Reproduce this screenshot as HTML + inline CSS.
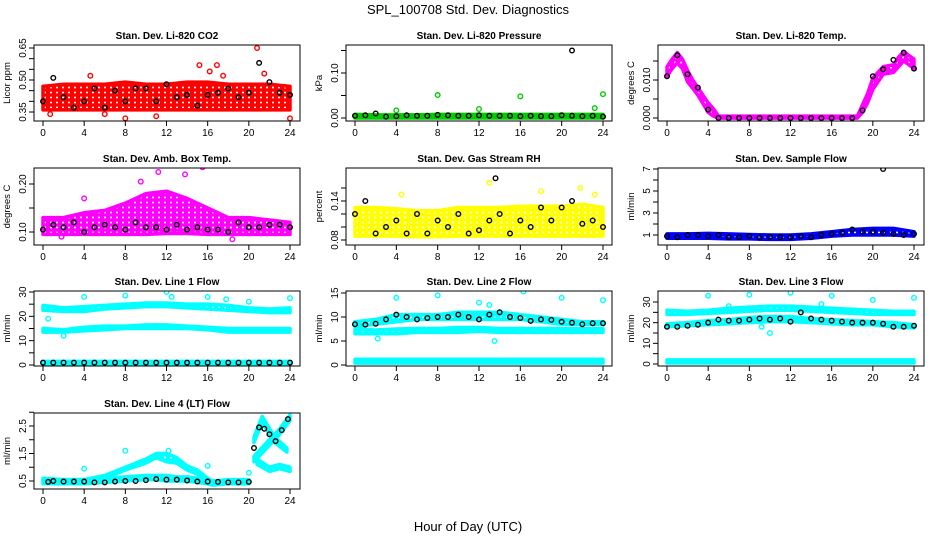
<!DOCTYPE html>
<html><head><meta charset="utf-8"><style>
body{margin:0;background:#fff}
svg{display:block;font-family:"Liberation Sans",sans-serif}
</style></head><body>
<svg id="c" width="936" height="540">
<defs id="defs"></defs>
<text x="468" y="14" text-anchor="middle" font-size="13">SPL_100708  Std. Dev. Diagnostics</text>
<text x="468" y="531" text-anchor="middle" font-size="13">Hour of Day (UTC)</text>
</svg>
<script>
// ---- data ----
const xTicks=[0,4,8,12,16,20,24];
const bandHours=[0,2,4,6,8,10,12,14,16,18,20,22,24];
const blackHours=[0,1,2,3,4,5,6,7,8,9,10,11,12,13,14,15,16,17,18,19,20,21,22,23,24];
// CO2
const co2Lo=[0.36,0.36,0.36,0.36,0.36,0.36,0.36,0.36,0.36,0.36,0.36,0.36,0.36];
const co2Hi=[0.47,0.48,0.48,0.48,0.49,0.48,0.48,0.49,0.49,0.48,0.48,0.48,0.47];
const co2Black=[0.40,0.51,0.42,0.37,0.40,0.46,0.37,0.45,0.40,0.46,0.46,0.40,0.48,0.42,0.43,0.38,0.43,0.44,0.46,0.42,0.44,0.58,0.49,0.44,0.43];
const co2OutX=[15.2,16.2,16.9,20.8,21.5,8,11,24,0.7,6,4.6,17.5];
const co2OutY=[0.57,0.54,0.57,0.65,0.53,0.32,0.33,0.32,0.34,0.34,0.52,0.52];
// Pressure
const presLo=[0,0,0,0,0,0,0,0,0,0,0,0,0];
const presHi=[0.008,0.007,0.007,0.007,0.008,0.008,0.008,0.008,0.008,0.008,0.008,0.008,0.008];
const presBlack=[0.005,0.006,0.01,0.003,0.004,0.006,0.005,0.005,0.007,0.006,0.005,0.005,0.006,0.005,0.005,0.005,0.004,0.005,0.004,0.004,0.006,0.005,0.004,0.005,0.003];
const presOutX=[8,16,24,23.2,4,12];
const presOutY=[0.051,0.048,0.053,0.022,0.017,0.02];
const presBOutX=[21]; const presBOutY=[0.15];
// Li-820 temp
const tmpHours=[0,0.5,1,1.5,2,2.5,3,3.5,4,4.5,5,18.5,19,19.5,20,21,22,22.5,23,24];
const tmpLo=[0.011,0.013,0.0145,0.013,0.0095,0.0078,0.006,0.0038,0.0015,0.0005,0,0,0.0015,0.004,0.0075,0.0115,0.012,0.0135,0.015,0.013];
const tmpHi=[0.0135,0.0155,0.0172,0.0155,0.0125,0.01,0.008,0.006,0.004,0.0025,0.0005,0.0005,0.0035,0.0065,0.0105,0.0135,0.014,0.016,0.0175,0.0155];
const tmpBlack=[0.011,0.0165,0.0115,0.008,0.0022,0,0,0,0,0,0,0,0,0,0,0,0,0,0,0.002,0.011,0.0128,0.0153,0.0172,0.013];
// Box temp
const boxLo=[0.095,0.095,0.095,0.095,0.095,0.095,0.097,0.097,0.095,0.095,0.095,0.095,0.095];
const boxHi=[0.13,0.13,0.14,0.145,0.16,0.18,0.185,0.17,0.15,0.13,0.13,0.125,0.12];
const boxBlack=[0.105,0.115,0.11,0.12,0.10,0.11,0.115,0.11,0.105,0.12,0.11,0.11,0.105,0.115,0.105,0.11,0.105,0.105,0.10,0.12,0.11,0.11,0.115,0.115,0.11];
const boxOutX=[11.2,15.5,4,18.4,1.8,13.8,9.5];
const boxOutY=[0.225,0.235,0.17,0.085,0.09,0.22,0.205];
// RH
const rhLo=[0.086,0.086,0.086,0.085,0.085,0.086,0.086,0.086,0.086,0.086,0.086,0.086,0.086];
const rhHi=[0.13,0.13,0.128,0.125,0.125,0.13,0.13,0.13,0.132,0.132,0.132,0.135,0.13];
const rhBlack=[0.12,0.14,0.09,0.10,0.11,0.09,0.12,0.09,0.11,0.10,0.12,0.09,0.095,0.11,0.12,0.09,0.11,0.10,0.13,0.11,0.13,0.14,0.105,0.11,0.10];
const rhOutX=[13,4.5,21.8,18,23.2];
const rhOutY=[0.168,0.15,0.16,0.155,0.15];
const rhBOutX=[13.6]; const rhBOutY=[0.175];
// Sample flow
const sfLo=[0.7,0.7,0.7,0.65,0.65,0.6,0.6,0.7,0.9,1.0,1.0,1.0,0.9];
const sfHi=[1.1,1.1,1.15,1.1,1.05,1.0,1.0,1.1,1.3,1.5,1.6,1.6,1.3];
const sfBlack=[0.9,0.8,1.0,1.0,0.9,1.0,0.8,0.8,0.9,0.75,0.85,0.8,0.8,0.9,0.8,1.0,1.1,1.2,1.5,1.3,1.3,1.2,1.1,1.0,1.1];
const sfBOutX=[21]; const sfBOutY=[7];
// Line 1
const l1aLo=[22.5,22,22,23,23.5,24,24,23.5,23,22.5,22,21.5,21.5];
const l1aHi=[24.5,23.5,24,24.5,25,25.5,25.5,25,25,24.5,23.5,23,23.5];
const l1bLo=[13.5,13.5,14,14.5,15,15,15,15,14.5,13.5,13.5,13.5,13.5];
const l1bHi=[15,14.5,15.5,16,16,16.5,16.5,16,15.5,15,15,15,15];
const l1cLo=[0.5,0.5,0.5,0.5,0.5,0.5,0.5,0.5,0.5,0.5,0.5,0.5,0.5];
const l1cHi=[1.5,1.5,1.5,1.5,1.5,1.5,1.5,1.5,1.5,1.5,1.5,1.5,1.5];
const l1Black=[1,1,1,1,1,1,1,1,1,1,1,1,1,1,1,1,1,1,1,1,1,1,1,1,1];
const l1OutX=[4,8,12,12.5,16,17.8,20,24,2,0.5];
const l1OutY=[28,28.5,30,28,28,27,26,27.5,12,19];
// Line 2
const l2aLo=[8,8.5,9,9.5,9.5,9.5,9.5,9.5,9.5,9,8.5,8.5,8.5];
const l2aHi=[9,9.5,10.5,10.5,10.5,11,11,11,10.5,10,9.5,9,9];
const l2bLo=[6.5,6.5,6.5,6.8,6.8,6.8,7,6.8,6.8,6.8,6.8,6.8,6.8];
const l2bHi=[7.5,7.3,7.5,7.6,7.6,7.8,7.8,7.6,7.6,7.6,7.6,7.6,7.6];
const l2cLo=[0.4,0.4,0.4,0.4,0.4,0.4,0.4,0.4,0.4,0.4,0.4,0.4,0.4];
const l2cHi=[1.2,1.2,1.2,1.2,1.2,1.2,1.2,1.2,1.2,1.2,1.2,1.2,1.2];
const l2Black=[8.5,8.4,8.6,9.5,10.5,10,9.5,9.8,10,10,10.5,10,9.5,10.5,11,10,9.8,9.2,9.5,9.4,9,8.8,8.5,8.7,8.7];
const l2OutX=[4,8,12,13,16.3,20,24,2.2,13.5];
const l2OutY=[14,14.5,13,12.5,15.3,14,13.5,5.5,5];
// Line 3
const l3aLo=[24,24,24.5,25,25.5,26,26,25.5,25,24.5,24,24,24];
const l3aHi=[26,25.5,26,27,27.5,28,28,27.5,27,26.5,26,25.5,25.5];
const l3bLo=[18,18.5,19,19.5,20,20.5,20.5,20,19.5,19,19,18,17.5];
const l3bHi=[19.5,20,21,21.5,22.5,23,23,22,21.5,21,20.5,20,19];
const l3cLo=[0.5,0.5,0.5,0.5,0.5,0.5,0.5,0.5,0.5,0.5,0.5,0.5,0.5];
const l3cHi=[2,2,2,2,2,2,2,2,2,2,2,2,2];
const l3Black=[18,18,18.5,19,20,21.5,21,21,21.5,22,21.5,22,20.5,25,22,21.5,21,20.5,20,20,20,19.5,18,18,18.5];
const l3OutX=[4,8,12,16,20,24,10,9.2,6,15];
const l3OutY=[33,33.5,34.5,33,31,32,15,18,28,29];
// Line 4
const l4Hours=[0,2,4,6,8,10,11,12,13,14,15,16,16.5,18,20];
const l4aLo=[0.4,0.4,0.4,0.45,0.5,0.55,0.55,0.5,0.5,0.5,0.45,0.4,0.35,0.4,0.4];
const l4aHi=[0.6,0.55,0.55,0.6,0.65,0.7,0.7,0.7,0.65,0.65,0.6,0.55,0.5,0.55,0.55];
const l4bLo=[0.5,0.5,0.5,0.6,0.9,1.15,1.35,1.2,1.15,0.9,0.75,0.5,0.45,0.45,0.45];
const l4bHi=[0.55,0.55,0.55,0.7,1.0,1.3,1.5,1.5,1.35,1.05,0.9,0.6,0.5,0.5,0.5];
const l4cHours=[20.5,21,22,23,24];
const l4cLo=[1.2,1.4,1.8,2.2,2.7];
const l4cHi=[1.4,1.6,2.0,2.4,2.9];
const l4dHours=[20.5,21.3,22.5,23.7];
const l4dLo=[1.9,2.65,1.9,1.55];
const l4dHi=[2.1,2.85,2.1,1.7];
const l4eHours=[20.8,22,23,24];
const l4eLo=[1.1,0.85,0.95,0.85];
const l4eHi=[1.3,1.0,1.1,1.0];
const l4BlackX=[0.5,1,2,3,4,5,6,7,8,9,10,11,12,13,14,15,16,17,18,19,20,20.5,21,21.5,22,22.6,23.2,23.8];
const l4BlackY=[0.47,0.5,0.48,0.48,0.48,0.45,0.45,0.48,0.5,0.5,0.53,0.57,0.55,0.55,0.52,0.48,0.48,0.47,0.45,0.45,0.47,1.7,2.45,2.4,2.2,1.95,2.35,2.75];
const l4OutX=[4,8,12.2,16,20];
const l4OutY=[0.95,1.6,1.6,1.05,0.8];

// ---- layout ----
const cols=[{x0:34,x1:300,h0:43,h24:290},{x0:346,x1:612,h0:355,h24:603},{x0:658,x1:924,h0:667,h24:914}];
const rows=[{y0:45,y1:121},{y0:168,y1:245},{y0:291,y1:366},{y0:413,y1:489}];
const svg=document.getElementById('c');
const defs=document.getElementById('defs');
const NS='http://www.w3.org/2000/svg';
function mk(tag,attrs,parent){const e=document.createElementNS(NS,tag);for(const k in attrs)e.setAttribute(k,attrs[k]);(parent||svg).appendChild(e);return e;}
const patIds={};
function pat(col){
  if(patIds[col])return patIds[col];
  const id='pat'+col.replace('#','');
  const p=mk('pattern',{id:id,width:6,height:5,patternUnits:'userSpaceOnUse'},defs);
  mk('rect',{x:0,y:0,width:6,height:5,fill:col},p);
  mk('circle',{cx:3,cy:2.5,r:1,fill:'#fff'},p);
  patIds[col]=id;return id;
}

function panel(name,title,ytitle,c,r,ya,yb,ticks,labels,draw){
  const C=cols[c],R=rows[r];
  const g=mk('g',{});
  
  
  const sx=h=>C.h0+(C.h24-C.h0)*h/24;
  const sy=v=>ya[1]+(yb[1]-ya[1])*(v-ya[0])/(yb[0]-ya[0]);
  const t=mk('text',{x:(C.x0+C.x1)/2,y:R.y0-6,'text-anchor':'middle','font-size':'10','font-weight':'bold'},g);
  t.textContent=title;
  
  
  const pts=mk('g',{},g);
  
  
  const clip='cl'+name;
  const cp=mk('clipPath',{id:clip},g);mk('rect',{x:C.x0,y:R.y0,width:C.x1-C.x0,height:R.y1-R.y0},cp);
  pts.setAttribute('clip-path','url(#'+clip+')');
  draw({
    band:(xs,lo,hi,col)=>{
      let d='M'+xs.map((h,i)=>sx(h)+','+sy(hi[i])).join('L')+'L'+xs.map((h,i)=>sx(h)+','+sy(lo[i])).reverse().join('L')+'Z';
      const p=mk('path',{d:d,fill:'url(#'+pat(col)+')',stroke:col,'stroke-width':3.5,'stroke-linejoin':'round'},pts);
      
      
    },
    points:(xs,ys,col)=>{xs.forEach((h,i)=>{const e=mk('circle',{cx:sx(h),cy:sy(ys[i]),r:2.3,fill:'none',stroke:col,'stroke-width':1.4},pts);
      
      });}
  });
  const fr=mk('rect',{x:C.x0,y:R.y0,width:C.x1-C.x0,height:R.y1-R.y0,fill:'none',stroke:'#000','stroke-width':1},g);
  
  
  const xa=mk('g',{},g);
  
  
  mk('line',{x1:sx(0),x2:sx(24),y1:R.y1,y2:R.y1,stroke:'#000'},xa);
  xTicks.forEach(h=>{mk('line',{x1:sx(h),x2:sx(h),y1:R.y1,y2:R.y1+5,stroke:'#000'},xa);
    const tl=mk('text',{x:sx(h),y:R.y1+15,'text-anchor':'middle','font-size':'10'},xa);tl.textContent=h;});
  const ya_=mk('g',{},g);
  
  
  ticks.forEach(v=>{mk('line',{x1:C.x0-5,x2:C.x0,y1:sy(v),y2:sy(v),stroke:'#000'},ya_);});
  labels.forEach(v=>{const yy=sy(v);const tl=mk('text',{x:C.x0-8,y:yy,'text-anchor':'middle','font-size':'10',transform:'rotate(-90 '+(C.x0-8)+' '+yy+')'},ya_);
    tl.textContent=typeof v==='number'?v.toFixed(labels.dec):v;});
  const yt=mk('text',{x:C.x0-24,y:(R.y0+R.y1)/2,'text-anchor':'middle','font-size':'9.5',transform:'rotate(-90 '+(C.x0-24)+' '+((R.y0+R.y1)/2)+')'},g);
  yt.textContent=ytitle;
  
  
}
function L(arr,dec){arr.dec=dec;return arr;}
const RED='#ff0000',GRN='#00cc00',MAG='#ff00ff',YEL='#ffff00',BLU='#0000ff',CY='#00ffff',BK='#000';

panel('co2','Stan. Dev. Li-820 CO2','Licor ppm',0,0,[0.35,112],[0.65,48],[0.35,0.40,0.45,0.50,0.55,0.60,0.65],L([0.35,0.50,0.65],2),p=>{
  p.band(bandHours,co2Lo,co2Hi,RED);p.points(co2OutX,co2OutY,RED);p.points(blackHours,co2Black,BK);});
panel('pressure','Stan. Dev. Li-820 Pressure','kPa',1,0,[0,118],[0.10,73],[0,0.05,0.10,0.15],L([0,0.10],2),p=>{
  p.band(bandHours,presLo,presHi,GRN);p.points(presOutX,presOutY,GRN);p.points(blackHours,presBlack,BK);p.points(presBOutX,presBOutY,BK);});
panel('li820-temp','Stan. Dev. Li-820 Temp.','degrees C',2,0,[0,118],[0.010,80],[0,0.005,0.010,0.015],L([0,0.010],3),p=>{
  p.band(tmpHours,tmpLo,tmpHi,MAG);p.band([5,18.5],[0,0],[0.0004,0.0004],MAG);p.points(blackHours,tmpBlack,BK);});
panel('box-temp','Stan. Dev. Amb. Box Temp.','degrees C',0,1,[0.10,232],[0.20,184],[0.10,0.15,0.20],L([0.10,0.20],2),p=>{
  p.band(bandHours,boxLo,boxHi,MAG);p.points(boxOutX,boxOutY,MAG);p.points(blackHours,boxBlack,BK);});
panel('rh','Stan. Dev. Gas Stream RH','percent',1,1,[0.08,240],[0.14,201],[0.08,0.10,0.12,0.14,0.16],L([0.08,0.14],2),p=>{
  p.band(bandHours,rhLo,rhHi,YEL);p.points(rhOutX,rhOutY,YEL);p.points(blackHours,rhBlack,BK);p.points(rhBOutX,rhBOutY,BK);});
panel('sample-flow','Stan. Dev. Sample Flow','ml/min',2,1,[1,235],[7,169],[1,2,3,4,5,6,7],L([1,3,5,7],0),p=>{
  p.band(bandHours,sfLo,sfHi,BLU);p.points(blackHours,sfBlack,BK);p.points(sfBOutX,sfBOutY,BK);});
panel('line1','Stan. Dev. Line 1 Flow','ml/min',0,2,[0,365],[30,292],[0,5,10,15,20,25,30],L([0,10,20,30],0),p=>{
  p.band(bandHours,l1aLo,l1aHi,CY);p.band(bandHours,l1bLo,l1bHi,CY);p.band(bandHours,l1cLo,l1cHi,CY);p.points(l1OutX,l1OutY,CY);p.points(blackHours,l1Black,BK);});
panel('line2','Stan. Dev. Line 2 Flow','ml/min',1,2,[0,365],[15,293],[0,5,10,15],L([0,5,10,15],0),p=>{
  p.band(bandHours,l2aLo,l2aHi,CY);p.band(bandHours,l2bLo,l2bHi,CY);p.band(bandHours,l2cLo,l2cHi,CY);p.points(l2OutX,l2OutY,CY);p.points(blackHours,l2Black,BK);});
panel('line3','Stan. Dev. Line 3 Flow','ml/min',2,2,[0,364],[30,302],[0,5,10,15,20,25,30],L([0,10,20,30],0),p=>{
  p.band(bandHours,l3aLo,l3aHi,CY);p.band(bandHours,l3bLo,l3bHi,CY);p.band(bandHours,l3cLo,l3cHi,CY);p.points(l3OutX,l3OutY,CY);p.points(blackHours,l3Black,BK);});
panel('line4','Stan. Dev. Line 4 (LT) Flow','ml/min',0,3,[0.5,481],[2.5,426],[0.5,1,1.5,2,2.5,3],L([0.5,1.5,2.5],1),p=>{
  p.band(l4Hours,l4aLo,l4aHi,CY);p.band(l4Hours,l4bLo,l4bHi,CY);p.band(l4cHours,l4cLo,l4cHi,CY);p.band(l4dHours,l4dLo,l4dHi,CY);p.band(l4eHours,l4eLo,l4eHi,CY);
  p.points(l4OutX,l4OutY,CY);p.points(l4BlackX,l4BlackY,BK);});
</script>
</body></html>
